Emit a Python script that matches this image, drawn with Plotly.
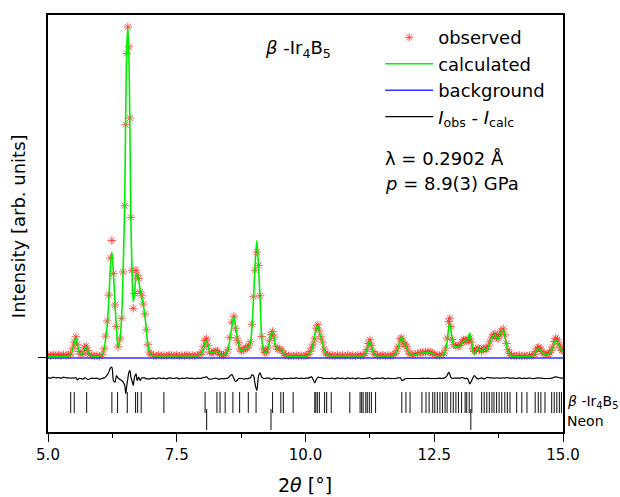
import plotly.graph_objects as go

# ---------------- data ----------------
two_theta = [
    5.00, 5.05, 5.10, 5.15, 5.20, 5.25, 5.30, 5.35, 5.40,
    5.44, 5.48, 5.51, 5.54, 5.57, 5.60, 5.64, 5.68, 5.71, 5.74, 5.77, 5.80, 5.85, 5.90, 5.95, 6.00,
    6.05, 6.09, 6.12, 6.15, 6.18, 6.21, 6.24, 6.27, 6.30, 6.33, 6.36, 6.40, 6.43, 6.46, 6.49, 6.51,
    6.53, 6.55, 6.57, 6.59, 6.61, 6.63, 6.655, 6.68, 6.71, 6.73, 6.76, 6.79, 6.82, 6.85, 6.88, 6.91,
    6.94, 6.97, 7.00,
    7.05, 7.10, 7.15, 7.20, 7.25, 7.30, 7.35, 7.40, 7.45, 7.50, 7.55, 7.60, 7.65, 7.70, 7.75, 7.80, 7.85, 7.90,
    7.95, 7.99, 8.02, 8.05, 8.08, 8.11, 8.14, 8.18, 8.22, 8.26, 8.29, 8.33, 8.37, 8.41, 8.45, 8.49,
    8.53, 8.57, 8.61, 8.64, 8.67, 8.70, 8.73, 8.76, 8.80, 8.84, 8.87, 8.90, 8.93, 8.96, 8.99, 9.02,
    9.055, 9.09, 9.12, 9.15, 9.18, 9.21, 9.24, 9.27, 9.30, 9.33, 9.36, 9.39, 9.42, 9.46, 9.50, 9.54,
    9.58, 9.62, 9.67, 9.72, 9.77, 9.82, 9.87, 9.92, 9.97, 10.01,
    10.05, 10.09, 10.12, 10.15, 10.18, 10.21, 10.24, 10.27, 10.30, 10.33, 10.36, 10.39, 10.43, 10.47,
    10.52, 10.57, 10.62, 10.67, 10.72, 10.77, 10.82, 10.87, 10.92, 10.97, 11.02, 11.07,
    11.12, 11.16, 11.19, 11.22, 11.25, 11.28, 11.31, 11.35, 11.40,
    11.45, 11.50, 11.55, 11.60, 11.65,
    11.70, 11.74, 11.77, 11.80, 11.84, 11.87, 11.90, 11.93, 11.96, 11.99, 12.03, 12.08, 12.13, 12.18,
    12.23, 12.28, 12.33, 12.38, 12.42, 12.46, 12.50, 12.55, 12.60, 12.65, 12.69, 12.72, 12.75, 12.78,
    12.80, 12.82, 12.85, 12.88, 12.92, 12.96, 13.00, 13.04, 13.07, 13.10, 13.13, 13.16, 13.19, 13.22,
    13.25, 13.28, 13.32, 13.35, 13.38, 13.42, 13.46, 13.49, 13.52, 13.55, 13.58, 13.62, 13.65, 13.68,
    13.71, 13.74, 13.77, 13.80, 13.84, 13.87, 13.90, 13.93, 13.96, 14.00,
    14.05, 14.10, 14.15, 14.20, 14.25, 14.30, 14.35, 14.40,
    14.44, 14.47, 14.50, 14.53, 14.56, 14.59, 14.63, 14.67, 14.71, 14.74, 14.77, 14.80, 14.83, 14.86,
    14.89, 14.92, 14.95, 14.98, 15.00,
]

i_calc = [
    0.5, 0.5, 0.5, 0.5, 0.5, 0.5, 0.5, 0.5, 0.6,
    1.0, 2.6, 4.6, 6.0, 4.3, 1.9, 1.0, 1.5, 2.8, 3.4, 2.5, 1.1, 0.6, 0.5, 0.5, 0.6,
    0.9, 2.5, 6.0, 10.0, 17.0, 27.0, 32.0, 26.0, 17.0, 8.5, 3.2, 6.0, 12.5, 27.0, 48.0, 75.0,
    94.0, 100.0, 92.0, 70.0, 42.0, 27.0, 17.0, 19.0, 25.0, 25.5, 23.5, 20.5, 18.5, 16.0, 13.0, 8.5,
    4.0, 1.8, 1.0,
    0.6, 0.6, 0.6, 0.6, 0.6, 0.6, 0.6, 0.6, 0.6, 0.6, 0.6, 0.6, 0.6, 0.6, 0.6, 0.6, 0.6, 0.7,
    0.9, 1.6, 3.0, 4.8, 5.2, 3.6, 1.9, 1.5, 1.8, 2.0, 2.0, 1.2, 0.8, 0.8, 1.1, 2.3,
    5.4, 9.5, 12.5, 9.8, 6.5, 4.5, 2.6, 2.0, 2.5, 3.0, 3.1, 3.5, 4.6, 9.0, 17.5, 28.0,
    35.5, 27.0, 17.0, 6.0, 2.5, 1.6, 1.6, 2.8, 5.0, 7.2, 8.0, 6.0, 3.6, 2.5, 2.7, 2.4,
    1.2, 0.7, 0.6, 0.5, 0.5, 0.5, 0.5, 0.5, 0.5, 0.6,
    0.8, 1.5, 2.4, 4.5, 7.0, 9.2, 9.5, 7.8, 6.0, 4.6, 2.6, 1.4, 0.9, 0.7,
    0.6, 0.6, 0.6, 0.6, 0.6, 0.6, 0.6, 0.6, 0.6, 0.6, 0.6, 0.6,
    0.7, 1.2, 2.4, 4.2, 5.1, 3.8, 2.0, 1.0, 0.6,
    0.6, 0.6, 0.6, 0.6, 0.6,
    0.7, 1.2, 1.9, 3.2, 5.5, 6.4, 5.0, 4.2, 3.4, 2.0, 1.0, 0.8, 1.0, 1.3,
    1.5, 1.5, 1.6, 1.7, 1.7, 1.4, 0.9, 0.7, 0.6, 0.8, 1.3, 2.5, 5.0, 9.0,
    10.5, 9.0, 5.5, 3.8, 3.4, 3.4, 3.6, 4.4, 5.2, 5.4, 5.0, 5.8, 7.5, 5.5,
    2.5, 1.0, 2.2, 3.0, 2.6, 1.6, 2.8, 2.8, 2.2, 3.2, 4.6, 6.0, 6.8, 7.0,
    6.0, 5.6, 6.8, 8.0, 8.5, 6.8, 4.0, 2.2, 1.2, 0.6,
    0.5, 0.5, 0.5, 0.5, 0.5, 0.5, 0.5, 0.6,
    1.0, 1.8, 2.7, 3.0, 2.5, 1.7, 1.2, 1.0, 1.1, 1.5, 2.1, 3.0, 4.5, 5.4,
    5.0, 3.8, 2.8, 2.2, 2.0,
]

i_obs = [
    0.9, 0.7, 1.0, 0.8, 0.9, 0.7, 1.0, 0.8, 0.9,
    1.2, 2.9, 4.8, 6.4, 4.0, 2.0, 1.1, 1.4, 3.1, 3.6, 2.3, 1.0, 0.8, 0.6, 0.7, 0.5,
    1.0, 2.8, 6.6, 11.2, 19.0, 30.2, 35.5, 25.5, 16.0, 9.5, 3.4, 5.8, 12.0, 26.0, 46.0, 70.5,
    92.0, 100.0, 94.0, 72.5, 42.5, 26.5, 15.0, 19.5, 26.5, 25.0, 24.0, 20.0, 18.8, 16.3, 13.3, 8.5,
    4.0, 1.8, 1.1,
    0.8, 0.6, 0.9, 0.7, 0.8, 0.6, 0.9, 0.8, 0.7, 0.9, 0.6, 0.8, 0.7, 0.9, 0.7, 0.8, 0.6, 0.9,
    1.0, 1.8, 3.4, 5.3, 5.8, 3.7, 1.8, 1.4, 1.9, 2.2, 2.0, 1.1, 0.9, 0.8, 1.2, 2.5,
    6.2, 10.8, 12.6, 9.0, 6.0, 4.6, 2.7, 2.1, 2.4, 3.1, 3.1, 3.7, 4.9, 10.2, 18.5, 26.5,
    32.0, 28.0, 18.8, 6.5, 2.7, 1.7, 1.8, 3.0, 5.2, 7.0, 8.0, 6.3, 3.6, 2.6, 2.8, 2.3,
    1.3, 0.8, 0.7, 0.7, 0.6, 0.8, 0.6, 0.7, 0.6, 0.8,
    1.0, 2.0, 3.0, 4.2, 5.8, 9.0, 10.0, 8.2, 6.4, 4.8, 2.7, 1.5, 1.0, 0.8,
    0.8, 0.6, 0.9, 0.7, 0.8, 0.6, 0.9, 0.7, 0.8, 0.6, 0.9, 0.7,
    0.8, 1.3, 2.6, 4.4, 5.5, 3.8, 2.0, 1.1, 0.8,
    0.7, 0.9, 0.6, 0.8, 0.7,
    0.8, 1.3, 2.1, 3.5, 5.8, 6.0, 4.6, 4.2, 3.5, 2.1, 1.1, 0.9, 1.1, 1.4,
    1.6, 1.7, 1.7, 1.9, 1.8, 1.5, 1.0, 0.8, 0.8, 0.9, 1.5, 3.0, 6.0, 11.0,
    12.0, 9.5, 5.6, 4.0, 3.6, 3.6, 3.8, 4.8, 5.5, 5.4, 5.2, 5.5, 6.0, 4.8,
    2.8, 2.0, 2.4, 3.0, 2.7, 1.9, 2.8, 2.9, 2.6, 3.6, 4.9, 6.3, 7.0, 7.2,
    6.3, 5.8, 7.0, 8.2, 8.8, 7.0, 4.4, 2.5, 1.4, 0.8,
    0.7, 0.6, 0.8, 0.6, 0.7, 0.6, 0.8, 0.7,
    1.1, 2.0, 3.0, 3.3, 2.7, 1.9, 1.3, 1.1, 1.2, 1.6, 2.3, 3.3, 5.0, 6.0,
    5.5, 4.2, 3.0, 2.4, 2.2,
]

bg_x = [5.0, 15.0]
bg_y = [0.0, 0.0]

ir4b5_ticks = [
    5.44, 5.51, 5.75, 6.24, 6.35, 6.54, 6.70, 6.74, 6.81, 7.25, 8.05, 8.28, 8.34, 8.44, 8.59, 8.72,
    8.89, 9.04, 9.36, 9.52, 9.57, 9.76, 10.18, 10.20, 10.23, 10.27, 10.37, 10.41, 10.50, 10.86,
    11.06, 11.09, 11.12, 11.17, 11.20, 11.24, 11.28, 11.36, 11.87, 11.95, 12.03, 12.26, 12.34,
    12.40, 12.47, 12.51, 12.56, 12.61, 12.66, 12.71, 12.75, 12.82, 12.87, 12.92, 12.97, 13.03,
    13.10, 13.13, 13.18, 13.23, 13.42, 13.47, 13.52, 13.57, 13.62, 13.66, 13.71, 13.76, 13.81,
    13.87, 13.92, 13.97, 14.10, 14.20, 14.30, 14.46, 14.52, 14.57, 14.65, 14.78, 14.83, 14.88,
    14.93, 14.97,
]
neon_ticks = [8.08, 9.33, 13.21]

x_ticks = [5.0, 7.5, 10.0, 12.5, 15.0]
x_tick_labels = ["5.0", "7.5", "10.0", "12.5", "15.0"]

# ---------------- layout constants ----------------
DIFF_OFFSET = -6.3
IR_ROW = -13.45
NE_ROW = -18.55
FONT = "DejaVu Sans"

i_diff = [o - c + DIFF_OFFSET for o, c in zip(i_obs, i_calc)]

fig = go.Figure()

fig.add_trace(go.Scatter(
    x=two_theta, y=i_obs, mode="markers", name="observed", legendrank=1,
    marker=dict(symbol="asterisk-open", size=7, color="rgba(255,30,30,0.75)",
                line=dict(width=1, color="rgba(255,30,30,0.75)")),
))
fig.add_trace(go.Scatter(
    x=bg_x, y=bg_y, mode="lines", name="background", legendrank=3,
    line=dict(color="#3333ff", width=1.5),
))
fig.add_trace(go.Scatter(
    x=two_theta, y=i_calc, mode="lines", name="calculated", legendrank=2,
    line=dict(color="#00ee00", width=1.6, shape="spline", smoothing=0.8),
))
fig.add_trace(go.Scatter(
    x=two_theta, y=i_diff, mode="lines", name="<i>I</i><sub>obs</sub> - <i>I</i><sub>calc</sub>",
    legendrank=4,
    line=dict(color="black", width=1.2, shape="spline", smoothing=0.8),
))
fig.add_trace(go.Scatter(
    x=ir4b5_ticks, y=[IR_ROW] * len(ir4b5_ticks), mode="markers", showlegend=False,
    marker=dict(symbol="line-ns-open", size=15, color="#222222", line=dict(width=1.1, color="#222222")),
))
fig.add_trace(go.Scatter(
    x=neon_ticks, y=[NE_ROW] * len(neon_ticks), mode="markers", showlegend=False,
    marker=dict(symbol="line-ns-open", size=15, color="#222222", line=dict(width=1.1, color="#222222")),
))

fig.update_layout(
    width=620, height=497,
    margin=dict(l=48, r=57, t=15, b=65, autoexpand=False),
    paper_bgcolor="white", plot_bgcolor="white",
    font=dict(family=FONT, color="black"),
    showlegend=True,
    legend=dict(x=0.645, y=0.990, xanchor="left", yanchor="top",
                bgcolor="rgba(0,0,0,0)", font=dict(size=18, family=FONT),
                itemwidth=48, tracegroupgap=0),
    xaxis=dict(range=[5.0, 15.0], tickvals=x_ticks, ticktext=x_tick_labels, automargin=False,
               ticks="outside", ticklen=8, tickwidth=1.2, tickcolor="black",
               minor=dict(tickvals=[6.25, 8.75, 11.25, 13.75], ticks="outside", ticklen=4,
                          tickwidth=1.2, tickcolor="black"),
               showline=True, linecolor="black", linewidth=1.5, mirror=True,
               showgrid=False, zeroline=False, tickfont=dict(size=15, family=FONT)),
    yaxis=dict(range=[-22.36, 103.63], tickvals=[0], ticktext=[""], automargin=False,
               ticks="outside", ticklen=8, tickwidth=1.2, tickcolor="black",
               showline=True, linecolor="black", linewidth=1.5, mirror=True,
               showgrid=False, zeroline=False),
    annotations=[
        dict(text="<i>β</i> -Ir<sub>4</sub>B<sub>5</sub>", x=0.485, y=0.918, xref="paper", yref="paper",
             showarrow=False, font=dict(size=18, family=FONT), xanchor="center", yanchor="middle"),
        dict(text="λ = 0.2902 Å", x=0.65, y=0.657, xref="paper", yref="paper",
             showarrow=False, font=dict(size=18, family=FONT), xanchor="left", yanchor="middle"),
        dict(text="<i>p</i> = 8.9(3) GPa", x=0.65, y=0.597, xref="paper", yref="paper",
             showarrow=False, font=dict(size=18, family=FONT), xanchor="left", yanchor="middle"),
        dict(text="<i>β</i> -Ir<sub>4</sub>B<sub>5</sub>", x=1.004, y=-13.4, xref="paper", yref="y",
             showarrow=False, font=dict(size=14, family=FONT), xanchor="left", yanchor="middle"),
        dict(text="Neon", x=1.004, y=-19.0, xref="paper", yref="y",
             showarrow=False, font=dict(size=14, family=FONT), xanchor="left", yanchor="middle"),
        dict(text="Intensity [arb. units]", x=-0.058, y=0.494, xref="paper", yref="paper",
             showarrow=False, textangle=-90, font=dict(size=18, family=FONT),
             xanchor="center", yanchor="middle"),
        dict(text="2<i>θ</i> [°]", x=0.499, y=-0.127, xref="paper", yref="paper",
             showarrow=False, font=dict(size=19, family=FONT), xanchor="center", yanchor="middle"),
    ],
)

fig.write_html("out.html", config={"displayModeBar": False},
               post_script="document.body.style.margin='0px';")
